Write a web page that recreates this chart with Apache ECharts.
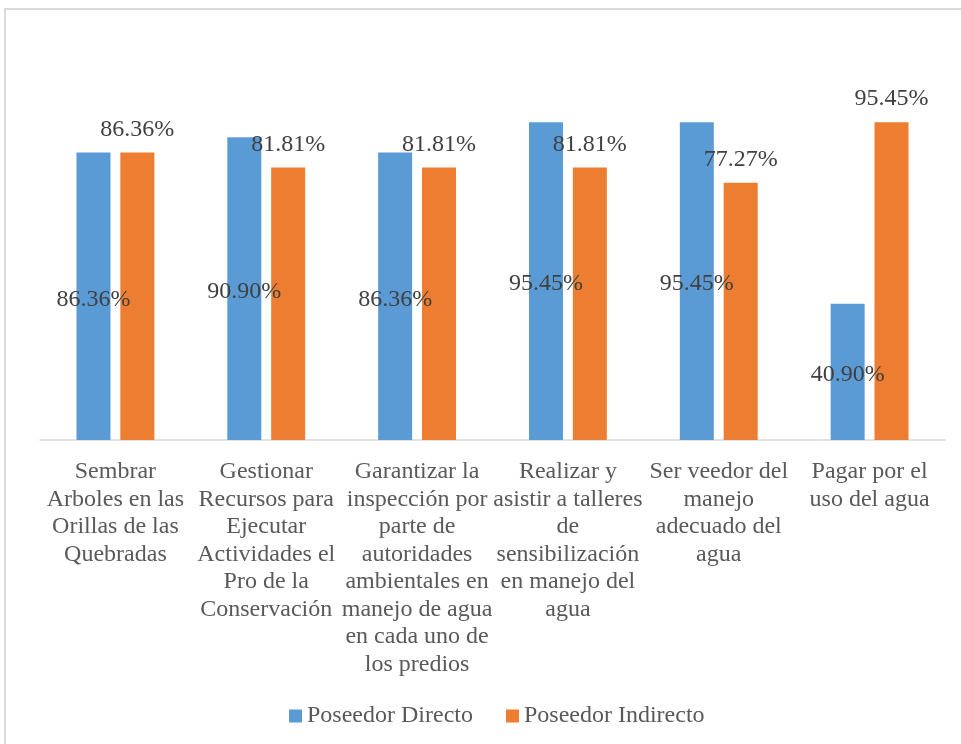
<!DOCTYPE html>
<html>
<head>
<meta charset="utf-8">
<script src="https://cdn.jsdelivr.net/npm/echarts@6/dist/echarts.min.js"></script>
<style>
html,body{margin:0;padding:0;background:#fff;}
#main{width:961px;height:744px;}
</style>
</head>
<body>
<div id="main"></div>
<script>
const categories = [
  "Sembrar\nArboles en las\nOrillas de las\nQuebradas",
  "Gestionar\nRecursos para\nEjecutar\nActividades el\nPro de la\nConservación",
  "Garantizar la\ninspección por\nparte de\nautoridades\nambientales en\nmanejo de agua\nen cada uno de\nlos predios",
  "Realizar y\nasistir a talleres\nde\nsensibilización\nen manejo del\nagua",
  "Ser veedor del\nmanejo\nadecuado del\nagua",
  "Pagar por el\nuso del agua"
];
const seriesNames = ["Poseedor Directo", "Poseedor Indirecto"];
const directo = [86.36, 90.90, 86.36, 95.45, 95.45, 40.90];
const indirecto = [86.36, 81.81, 81.81, 81.81, 77.27, 95.45];

const FONT = "'Liberation Serif', 'Times New Roman', serif";
const chart = echarts.init(document.getElementById('main'), null, {renderer: 'canvas'});
const fmt = p => p.value.toFixed(2) + '%';

chart.setOption({
  backgroundColor: '#ffffff',
  animation: false,
  textStyle: {fontFamily: FONT},
  graphic: [{
    type: 'rect',
    shape: {x: 5, y: 9, width: 1000, height: 800},
    style: {fill: 'none', stroke: '#d9d9d9', lineWidth: 2},
    silent: true
  }],
  grid: {left: 40, right: 16, top: 107, bottom: 304},
  legend: {
    left: 284, top: 699,
    itemWidth: 13, itemHeight: 13, itemGap: 33,
    icon: 'rect',
    textStyle: {fontFamily: FONT, fontSize: 24, color: '#595959'},
    data: seriesNames
  },
  xAxis: {
    type: 'category',
    data: categories,
    axisLine: {show: true, lineStyle: {color: '#d9d9d9', width: 1.5}},
    axisTick: {show: false},
    axisLabel: {
      interval: 0, margin: 18,
      fontFamily: FONT, fontSize: 24, lineHeight: 27.5, color: '#595959', align: 'center'
    }
  },
  yAxis: {
    type: 'value', min: 0, max: 100,
    show: false, splitLine: {show: false}
  },
  series: [
    {
      name: seriesNames[0], type: 'bar', data: directo,
      barWidth: 34, barGap: '29%',
      itemStyle: {color: '#5B9BD5'},
      label: {show: true, position: 'inside', offset: [0, 3], formatter: fmt,
        fontFamily: FONT, fontSize: 24, color: '#404040'}
    },
    {
      name: seriesNames[1], type: 'bar', data: indirecto,
      barWidth: 34, barGap: '29%',
      itemStyle: {color: '#ED7D31'},
      label: {show: true, position: 'top', distance: 11, formatter: fmt,
        fontFamily: FONT, fontSize: 24, color: '#404040'}
    }
  ]
});
</script>
</body>
</html>
